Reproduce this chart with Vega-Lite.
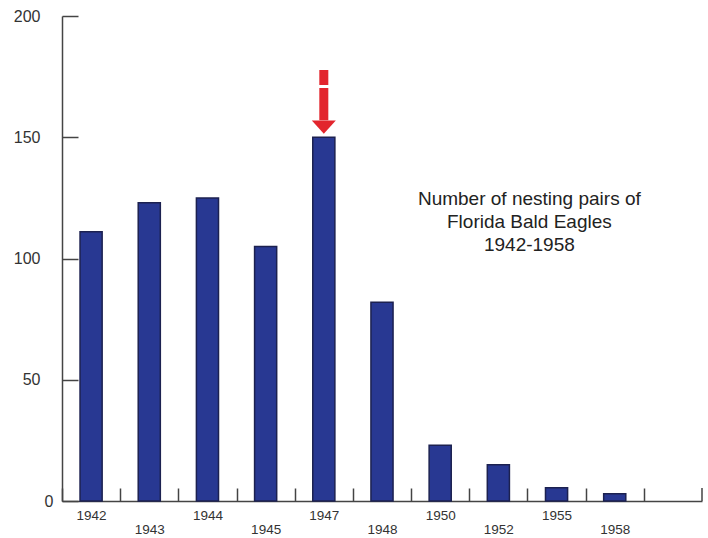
{
  "$schema": "https://vega.github.io/schema/vega-lite/v6.json",
  "width": 640,
  "height": 485,
  "autosize": "none",
  "padding": {"left": 62, "top": 16, "right": 6, "bottom": 37},
  "background": "white",
  "config": {"view": {"stroke": null}, "font": "Liberation Sans"},
  "datasets": {
    "counts": [
      {"year": "1942", "pairs": 111},
      {"year": "1943", "pairs": 123},
      {"year": "1944", "pairs": 125},
      {"year": "1945", "pairs": 105},
      {"year": "1947", "pairs": 150},
      {"year": "1948", "pairs": 82},
      {"year": "1950", "pairs": 23},
      {"year": "1952", "pairs": 15},
      {"year": "1955", "pairs": 5.5},
      {"year": "1958", "pairs": 3}
    ],
    "note": [
      {"label": "Number of nesting pairs of\nFlorida Bald Eagles\n1942-1958"}
    ]
  },
  "layer": [
    {
      "data": {"name": "counts"},
      "mark": {"type": "bar", "fill": "#283892", "stroke": "#1c2150", "strokeWidth": 1.5},
      "encoding": {
        "x": {
          "field": "year",
          "type": "nominal",
          "sort": null,
          "scale": {
            "domain": ["1942", "1943", "1944", "1945", "1947", "1948", "1950", "1952", "1955", "1958", "end"],
            "paddingInner": 0.62,
            "paddingOuter": 0.31
          },
          "axis": {
            "title": null,
            "labelAngle": 0,
            "tickOffset": -29.09,
            "labelOffset": 29.09,
            "tickSize": -13,
            "tickWidth": 1.5,
            "tickColor": "#444",
            "domainColor": "#444",
            "domainWidth": 1.5,
            "labelFontSize": 13.5,
            "labelColor": "#333",
            "labelBaseline": "top",
            "labelPadding": 20,
            "labelLineHeight": 14,
            "labelOverlap": false,
            "labelExpr": "datum.label == 'end' ? '' : (indexof(['1943','1945','1948','1952','1958'], datum.label) >= 0 ? ['', datum.label] : datum.label)"
          }
        },
        "y": {
          "field": "pairs",
          "type": "quantitative",
          "scale": {"domain": [0, 200], "nice": false},
          "axis": {
            "title": null,
            "grid": false,
            "values": [0, 50, 100, 150, 200],
            "tickSize": -16,
            "tickWidth": 1.5,
            "tickColor": "#444",
            "domainColor": "#444",
            "domainWidth": 1.5,
            "labelFontSize": 16,
            "labelColor": "#333",
            "labelFlush": false,
            "labelPadding": {"condition": {"test": "datum.value < 25", "value": 25}, "value": 38}
          }
        }
      }
    },
    {
      "data": {"values": [{}]},
      "mark": {"type": "rule", "color": "#444", "strokeWidth": 1.5, "xOffset": 29.09},
      "encoding": {
        "x": {"datum": "end"},
        "y": {"datum": 0},
        "y2": {"datum": 5.36}
      }
    },
    {
      "data": {"values": [{}]},
      "mark": {"type": "rule", "color": "#e2252d", "strokeWidth": 9, "strokeCap": "butt", "strokeDash": [15, 3, 100, 0]},
      "encoding": {
        "x": {"datum": "1947"},
        "y": {"datum": 177.7},
        "y2": {"datum": 157}
      }
    },
    {
      "data": {"values": [{}]},
      "mark": {"type": "point", "shape": "M-1,-0.55L1,-0.55L0,0.55Z", "size": 576, "filled": true, "color": "#e2252d", "opacity": 1, "strokeWidth": 0},
      "encoding": {
        "x": {"datum": "1947"},
        "y": {"datum": 154.2}
      }
    },
    {
      "data": {"name": "note"},
      "mark": {"type": "text", "lineBreak": "\n", "lineHeight": 23, "fontSize": 19, "color": "#222", "align": "center", "baseline": "alphabetic", "dx": 31},
      "encoding": {
        "x": {"datum": "1952"},
        "y": {"datum": 122},
        "text": {"field": "label", "type": "nominal"}
      }
    }
  ]
}
